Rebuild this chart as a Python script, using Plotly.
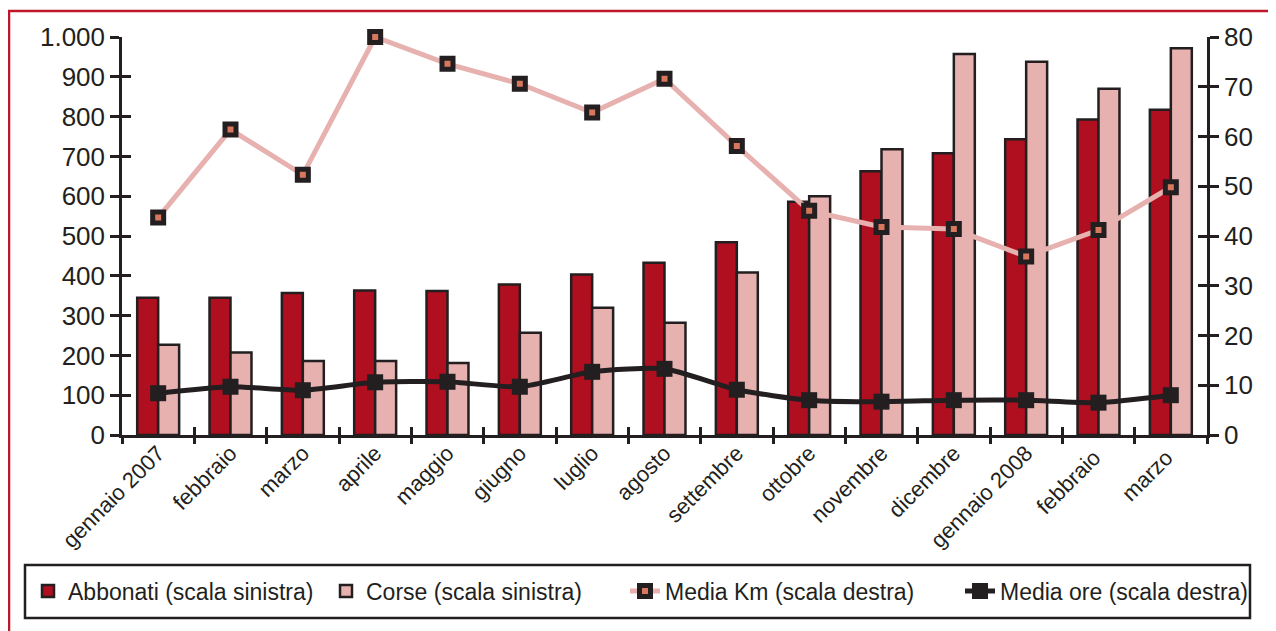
import plotly.graph_objects as go

months = ["gennaio 2007", "febbraio", "marzo", "aprile", "maggio", "giugno", "luglio",
          "agosto", "settembre", "ottobre", "novembre", "dicembre", "gennaio 2008",
          "febbraio ", "marzo "]
abbonati = [345, 345, 357, 363, 362, 378, 403, 433, 484, 586, 663, 708, 743, 793, 817]
corse = [227, 207, 186, 186, 181, 257, 320, 282, 408, 600, 718, 957, 938, 870, 972]
media_km = [43.7, 61.4, 52.3, 80.0, 74.6, 70.6, 64.8, 71.6, 58.1, 45.1, 41.8, 41.4, 35.9, 41.2, 49.8]
media_ore = [8.4, 9.7, 9.0, 10.6, 10.7, 9.7, 12.7, 13.3, 9.1, 7.0, 6.7, 7.0, 7.0, 6.5, 8.0]

# page is rendered with an 8px body margin, so the figure is slightly smaller
OFF = 8
W, H = 1276 - OFF, 631 - OFF
X0, X1, Y0, Y1 = 122, 1207, 37, 435   # plot area in page pixels
ML, MT = X0 - OFF, Y0 - OFF
MR, MB = W - (X1 - OFF), H - (Y1 - OFF)
PW, PH = X1 - X0, Y1 - Y0

def px(x):
    return (x - X0) / PW

def py(y):
    return (Y1 - y) / PH

DARK = "#231F20"
RED = "#B00F1F"
PINK = "#E6B1AE"
ORANGE = "#D7775D"
FRAME = "#C0162A"
FONT = "Liberation Sans"

fig = go.Figure()
fig.add_trace(go.Bar(x=months, y=abbonati, name="Abbonati (scala sinistra)",
                     marker=dict(color=RED, line=dict(color=DARK, width=2.5)),
                     legend="legend"))
fig.add_trace(go.Bar(x=months, y=corse, name="Corse (scala sinistra)",
                     marker=dict(color=PINK, line=dict(color=DARK, width=2.5)),
                     legend="legend2"))
fig.add_trace(go.Scatter(x=months, y=media_km, name="Media Km (scala destra)", yaxis="y2",
                         mode="lines+markers", line=dict(color=PINK, width=5), cliponaxis=False,
                         marker=dict(symbol="square", size=11, color=ORANGE,
                                     line=dict(color=DARK, width=5)),
                         legend="legend3"))
fig.add_trace(go.Scatter(x=months, y=media_ore, name="Media ore (scala destra)", yaxis="y2",
                         mode="lines+markers", line=dict(color=DARK, width=5, shape="spline", smoothing=0.6),
                         cliponaxis=False,
                         marker=dict(symbol="square", size=16, color=DARK),
                         legend="legend4"))

tickfont = dict(family=FONT, size=26, color=DARK)
boundaries = [i + 0.5 for i in range(len(months) - 1)]

leg_common = dict(orientation="h", yanchor="middle", y=py(591), xanchor="left",
                  font=dict(family=FONT, size=23, color=DARK), bgcolor="rgba(0,0,0,0)",
                  itemwidth=30, borderwidth=0)

fig.update_layout(
    width=W, height=H,
    margin=dict(l=ML, r=MR, t=MT, b=MB, pad=0),
    paper_bgcolor="white", plot_bgcolor="white",
    separators=",.",
    barmode="group", bargap=0.42, bargroupgap=0,
    font=dict(family=FONT, color=DARK),
    xaxis=dict(type="category", categoryarray=months, range=[-0.5, len(months) - 0.5],
               showline=True, linecolor=DARK, linewidth=2.5,
               ticks="outside", tickson="boundaries", ticklen=6, tickwidth=2.5, tickcolor=DARK,
               tickangle=-45, tickfont=dict(family=FONT, size=22, color=DARK),
               ticklabelstandoff=-6,
               showgrid=False, zeroline=False),
    xaxis2=dict(overlaying="x", anchor="y", range=[-0.5, len(months) - 0.5],
                tickvals=boundaries, ticks="inside", ticklen=8, tickwidth=2.5, tickcolor=DARK,
                showticklabels=False, showline=False, showgrid=False, zeroline=False),
    yaxis=dict(range=[0, 1000], dtick=100, tickformat=",", showline=True, linecolor=DARK,
               linewidth=2.5, ticks="outside", ticklen=9, tickwidth=2.5, tickcolor=DARK,
               tickfont=tickfont, showgrid=False, zeroline=False),
    yaxis2=dict(range=[0, 80], dtick=10, overlaying="y", side="right", showline=True,
                linecolor=DARK, linewidth=2.5, ticks="outside", ticklen=9, tickwidth=2.5,
                tickcolor=DARK, tickfont=tickfont, showgrid=False, zeroline=False),
    yaxis3=dict(range=[0, 1000], dtick=100, overlaying="y", side="left", anchor="x",
                ticks="inside", ticklen=9, tickwidth=2.5, tickcolor=DARK,
                showticklabels=False, showline=False, showgrid=False, zeroline=False),
    yaxis4=dict(range=[0, 80], dtick=10, overlaying="y", side="right", anchor="x",
                ticks="inside", ticklen=9, tickwidth=2.5, tickcolor=DARK,
                showticklabels=False, showline=False, showgrid=False, zeroline=False),
    legend=dict(leg_common, x=px(68 - 40)),
    legend2=dict(leg_common, x=px(366 - 40)),
    legend3=dict(leg_common, x=px(665 - 40)),
    legend4=dict(leg_common, x=px(1000 - 40)),
    shapes=[
        # legend box
        dict(type="rect", xref="paper", yref="paper", x0=px(25), x1=px(1250), y0=py(565), y1=py(618),
             line=dict(color=DARK, width=2.5), fillcolor="rgba(0,0,0,0)", layer="above"),
        # red frame
        dict(type="rect", xref="paper", yref="paper", x0=px(9), x1=px(1273), y0=py(660), y1=py(11),
             line=dict(color=FRAME, width=2.5), fillcolor="rgba(0,0,0,0)"),
    ],
)
# invisible helpers so the overlay tick axes render
fig.add_trace(go.Scatter(x=[0], y=[0], xaxis="x2", yaxis="y3", mode="markers",
                         marker=dict(opacity=0), showlegend=False, hoverinfo="skip"))
fig.add_trace(go.Scatter(x=[0], y=[0], xaxis="x2", yaxis="y4", mode="markers",
                         marker=dict(opacity=0), showlegend=False, hoverinfo="skip"))

fig.write_html("out.html")
